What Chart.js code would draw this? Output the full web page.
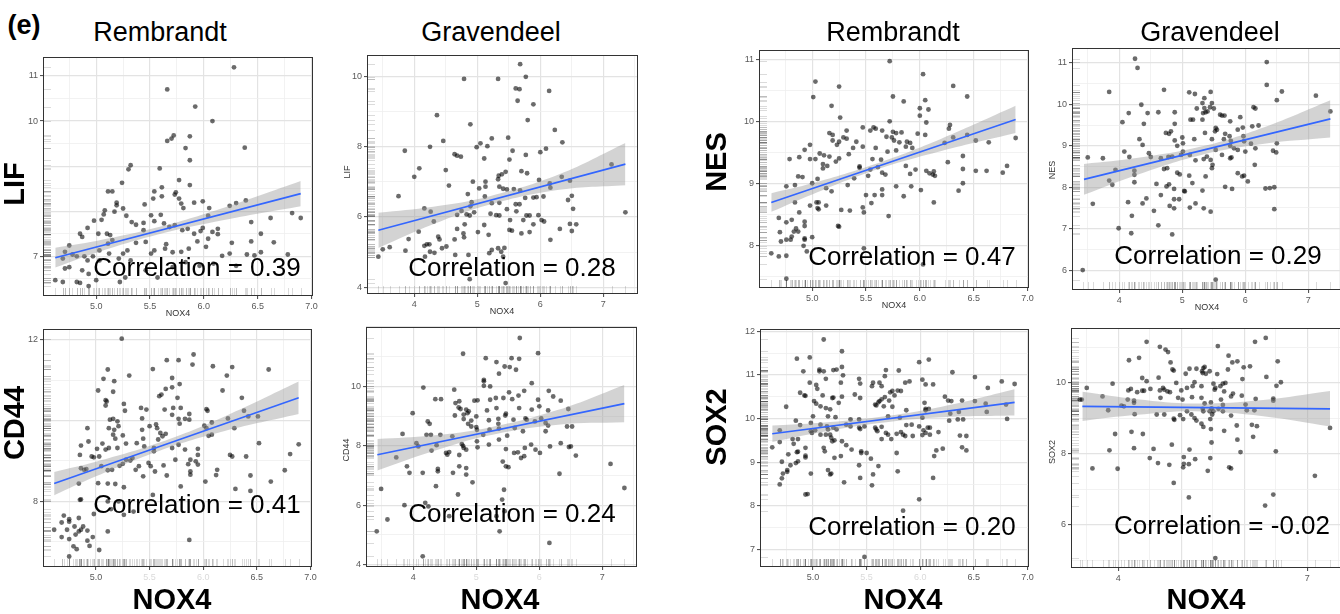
<!DOCTYPE html>
<html>
<head>
<meta charset="utf-8">
<script src="https://cdn.jsdelivr.net/npm/chart.js@4/dist/chart.umd.min.js"></script>
<style>
  body { margin: 0; width: 1340px; height: 614px; overflow: hidden; background: #fff; position: relative;
         font-family: "Liberation Sans", Arial, sans-serif; }
  canvas { position: absolute; }
  .t { position: absolute; transform: translate(-50%, -50%); white-space: nowrap; color: #000; line-height: 1; }
  .rot { transform: translate(-50%, -50%) rotate(-90deg); }
  .title { font-size: 27px; }
  .big { font-size: 29px; font-weight: bold; }
  .corr { font-size: 26px; }
  .small { font-size: 9px; color: #333; }
  .tag { font-size: 27px; font-weight: bold; }
</style>
</head>
<body>
<script>
// ---- data (NOX4 on x) ----
const lifRemPts = [[6.28,11.19],[5.66,10.70],[5.92,10.32],[6.08,10.0],[6.38,9.41],[5.66,9.56],[5.70,9.61],[5.72,9.68],[5.87,9.66],[5.83,9.40],[5.87,9.13],[5.59,8.95],[5.32,9.02],[5.30,8.93],[5.24,8.63],[5.77,8.69],[5.87,8.58],[5.61,8.53],[5.54,8.44],[5.74,8.42],[5.73,8.37],[5.11,8.44],[5.15,8.44],[5.19,8.19],[5.19,8.13],[5.45,8.15],[5.53,8.28],[5.61,8.33],[5.77,8.28],[5.79,8.17],[5.81,8.07],[5.91,8.19],[5.99,8.22],[6.05,8.07],[6.24,8.12],[6.30,8.18],[6.39,8.24],[5.25,8.06],[5.17,7.99],[5.08,8.02],[5.07,7.93],[4.98,7.79],[5.05,7.81],[4.92,7.63],[4.85,7.50],[4.87,7.43],[5.02,7.50],[5.10,7.50],[5.13,7.47],[5.15,7.36],[5.11,7.28],[5.28,7.90],[5.33,7.76],[5.37,7.70],[5.44,7.74],[5.44,7.58],[5.51,7.91],[5.54,7.78],[5.60,7.92],[5.63,7.73],[5.68,7.65],[5.73,7.69],[5.80,7.58],[5.85,7.61],[5.91,7.50],[5.97,7.56],[5.99,7.63],[6.04,7.90],[6.08,7.54],[6.13,7.61],[6.13,7.49],[6.26,7.30],[5.94,7.33],[6.04,7.39],[6.02,7.21],[5.86,7.17],[5.79,7.10],[5.71,7.09],[5.64,7.17],[5.65,7.27],[5.54,7.13],[5.51,7.06],[5.46,7.32],[5.37,7.30],[5.29,7.13],[5.25,7.06],[5.32,6.91],[5.21,6.95],[5.12,7.06],[5.03,7.13],[4.97,7.00],[5.03,6.91],[4.92,6.91],[4.89,7.00],[4.82,7.00],[4.78,7.04],[4.75,7.24],[4.71,7.10],[4.69,6.95],[4.75,6.76],[4.71,6.73],[4.87,6.69],[4.93,6.61],[4.82,6.43],[4.85,6.41],[4.93,6.34],[4.62,6.47],[4.69,6.43],[5.00,6.47],[5.22,6.43],[5.27,6.53],[5.46,6.69],[5.57,6.53],[5.71,6.76],[5.83,6.87],[5.96,6.79],[6.09,6.84],[6.30,6.79],[6.40,7.04],[6.47,7.02],[6.53,7.09],[6.44,7.33],[6.53,7.50],[6.65,7.31],[6.44,7.76],[6.62,7.85],[6.82,7.96],[6.90,7.85],[6.78,7.04],[6.24,7.06],[6.17,7.01]];
const lifRemFitX = [4.62, 6.90], lifRemFitY = [6.97, 8.39];
const lifRemBandX = [4.62, 5.0, 5.6, 6.2, 6.9];
const lifRemLo = [6.75, 7.08, 7.50, 7.81, 8.11];
const lifRemHi = [7.19, 7.34, 7.66, 8.09, 8.67];

const lifGravPts = [[5.68,10.34],[5.77,9.98],[5.33,9.92],[4.79,9.92],[5.61,9.65],[5.67,9.63],[6.14,9.58],[5.64,9.30],[5.89,9.20],[4.36,8.89],[5.80,8.75],[4.89,8.63],[6.23,8.47],[5.49,8.25],[5.23,8.23],[4.46,8.16],[6.35,8.12],[5.05,8.09],[5.16,8.01],[4.99,7.98],[4.25,7.99],[3.85,7.88],[5.56,7.88],[6.09,7.94],[6.00,7.84],[4.64,7.78],[4.68,7.74],[4.74,7.71],[5.11,7.66],[5.51,7.63],[5.77,7.76],[4.08,7.38],[4.50,7.33],[5.70,7.30],[5.79,7.24],[4.00,7.14],[5.34,7.17],[5.39,7.21],[5.45,7.28],[6.34,7.14],[5.98,7.05],[6.47,7.03],[7.13,7.49],[4.93,7.00],[5.13,7.00],[5.33,7.07],[4.55,6.89],[5.13,6.86],[5.35,6.86],[5.41,6.80],[5.47,6.78],[5.58,6.79],[5.68,6.75],[6.15,6.95],[6.16,6.83],[6.05,6.58],[5.03,6.81],[4.85,6.65],[5.12,6.58],[6.50,6.60],[6.44,6.48],[5.89,6.55],[5.76,6.54],[5.94,6.56],[5.35,6.40],[5.61,6.36],[5.67,6.36],[4.91,6.42],[4.89,6.30],[4.95,6.13],[4.88,6.04],[4.83,6.07],[4.75,6.17],[4.68,6.06],[5.23,6.39],[5.21,6.09],[5.30,6.05],[5.35,6.04],[5.47,6.22],[5.62,6.16],[5.78,6.04],[5.83,6.04],[5.73,5.91],[5.70,5.53],[5.97,6.05],[6.02,5.91],[6.06,5.87],[5.89,5.79],[5.83,5.57],[6.16,5.35],[6.31,5.66],[6.50,5.60],[6.47,5.80],[6.57,5.79],[6.52,6.23],[4.16,6.24],[4.26,6.15],[4.31,5.87],[4.07,5.58],[3.91,5.37],[3.75,6.59],[3.61,5.14],[3.50,5.08],[3.43,4.87],[3.86,5.04],[4.16,5.18],[4.20,5.22],[4.24,5.22],[4.25,5.01],[4.32,4.98],[4.38,5.44],[4.40,5.36],[4.44,5.11],[4.51,5.16],[4.64,5.36],[4.79,5.42],[4.78,5.53],[4.68,5.66],[4.80,5.79],[5.01,5.57],[5.11,5.77],[5.18,5.49],[5.23,5.06],[5.19,4.97],[5.33,5.11],[5.38,5.01],[5.43,5.12],[5.41,4.87],[5.51,5.63],[5.55,5.61],[5.52,5.91],[4.65,4.92],[4.86,4.92],[4.88,4.23],[5.45,4.12],[7.35,6.13],[4.17,4.87]];
const lifGravFitX = [3.43, 7.35], lifGravFitY = [5.62, 7.50];
const lifGravBandX = [3.43, 4.3, 5.2, 6.3, 7.35];
const lifGravLo = [5.12, 5.79, 6.35, 6.77, 6.90];
const lifGravHi = [6.12, 6.29, 6.59, 7.21, 8.10];

const nesRemPts = [[5.72,10.98],[6.03,10.77],[5.03,10.65],[5.25,10.57],[6.31,10.58],[5.01,10.40],[5.75,10.41],[6.44,10.41],[6.05,10.35],[5.85,10.33],[5.18,10.26],[6.00,10.22],[6.08,10.20],[6.00,10.10],[5.26,10.07],[5.72,10.01],[6.06,9.99],[6.28,9.95],[6.27,9.89],[5.47,9.91],[5.57,9.91],[5.59,9.89],[5.54,9.86],[5.32,9.86],[5.65,9.86],[5.75,9.84],[5.78,9.82],[5.83,9.83],[5.16,9.82],[5.19,9.79],[5.29,9.75],[5.32,9.73],[5.69,9.76],[5.74,9.75],[5.76,9.70],[5.98,9.81],[6.05,9.79],[6.44,9.79],[6.31,9.75],[5.19,9.70],[5.23,9.63],[5.25,9.68],[4.98,9.63],[5.41,9.68],[5.47,9.60],[5.59,9.58],[5.70,9.52],[5.81,9.67],[5.88,9.68],[5.91,9.66],[5.93,9.58],[5.87,9.60],[5.78,9.54],[6.23,9.66],[6.52,9.70],[6.64,9.67],[6.89,9.74],[5.38,9.58],[5.34,9.48],[5.07,9.49],[5.03,9.40],[4.93,9.55],[5.11,9.46],[5.16,9.44],[5.10,9.32],[5.14,9.29],[5.10,9.25],[5.25,9.41],[5.22,9.36],[4.88,9.43],[4.98,9.40],[4.79,9.40],[5.56,9.40],[5.64,9.39],[5.61,9.27],[5.44,9.26],[5.44,9.28],[5.54,9.23],[5.65,9.18],[5.68,9.15],[5.87,9.29],[5.96,9.23],[5.91,9.16],[6.06,9.21],[6.09,9.17],[6.12,9.15],[6.13,9.20],[6.26,9.35],[6.40,9.45],[6.40,9.24],[6.52,9.21],[6.62,9.21],[6.77,9.18],[6.81,9.29],[6.14,9.13],[5.05,9.08],[5.00,9.01],[4.87,9.12],[4.91,9.11],[4.84,8.98],[4.76,8.96],[5.13,8.93],[5.18,8.88],[5.33,8.98],[5.39,9.09],[5.52,9.13],[5.78,8.96],[5.92,8.96],[6.01,8.90],[5.85,8.80],[5.65,8.82],[5.65,8.91],[5.58,8.82],[5.50,8.82],[5.55,8.69],[5.47,8.62],[5.48,8.54],[5.35,8.57],[5.27,8.58],[5.25,8.31],[5.24,8.32],[5.13,8.65],[5.04,8.70],[5.05,8.61],[5.06,8.59],[4.98,8.65],[4.84,8.70],[4.88,8.54],[4.81,8.42],[4.93,8.39],[4.93,8.32],[4.85,8.28],[4.87,8.23],[4.83,8.23],[4.81,8.15],[4.80,8.10],[4.93,8.12],[4.93,8.10],[4.76,8.10],[4.71,8.07],[5.00,8.14],[4.92,8.00],[4.95,7.91],[4.70,8.22],[4.69,8.45],[4.76,8.38],[4.62,7.88],[4.69,7.83],[4.76,7.84],[4.76,7.47],[5.06,8.70],[6.13,8.70],[6.36,8.89],[6.40,9.01],[6.03,7.70],[5.71,8.48],[5.48,7.96]];
const nesRemFitX = [4.62, 6.89], nesRemFitY = [8.70, 10.04];
const nesRemBandX = [4.62, 5.0, 5.6, 6.2, 6.89];
const nesRemLo = [8.55, 8.83, 9.23, 9.53, 9.82];
const nesRemHi = [8.85, 9.01, 9.33, 9.73, 10.26];

const nesGravPts = [[4.25,11.10],[4.29,10.88],[6.34,11.02],[6.34,10.47],[3.84,10.30],[4.71,10.35],[5.11,10.29],[5.20,10.25],[5.45,10.30],[6.58,10.31],[7.12,10.21],[6.50,10.10],[5.35,10.15],[5.32,10.03],[5.47,10.03],[4.35,9.99],[5.23,9.90],[5.35,9.91],[5.44,9.93],[5.50,9.90],[5.33,9.79],[5.37,9.81],[5.40,9.83],[4.88,9.81],[4.62,9.81],[4.45,9.79],[4.15,9.79],[6.13,9.93],[6.16,9.90],[7.35,9.83],[5.32,9.63],[5.17,9.63],[5.13,9.63],[5.60,9.75],[5.63,9.73],[5.67,9.73],[5.76,9.59],[5.92,9.69],[4.05,9.57],[4.39,9.53],[4.88,9.53],[5.53,9.43],[5.55,9.39],[5.52,9.35],[5.36,9.31],[4.74,9.31],[4.79,9.29],[4.82,9.35],[6.21,9.49],[6.11,9.47],[5.88,9.39],[5.96,9.44],[5.68,9.29],[5.75,9.23],[5.47,9.16],[5.19,9.16],[5.00,9.20],[4.88,9.13],[4.32,9.16],[5.97,9.23],[5.98,9.11],[6.09,9.05],[6.50,9.06],[4.37,9.02],[5.77,9.12],[5.66,9.16],[5.01,9.06],[4.92,9.00],[4.47,8.82],[4.50,8.73],[4.08,8.86],[3.50,8.72],[3.74,8.70],[4.16,8.73],[4.66,8.70],[4.78,8.73],[4.84,8.74],[4.98,8.78],[5.01,8.86],[5.12,8.78],[5.21,8.65],[5.53,8.90],[5.63,8.78],[5.76,8.70],[5.78,8.72],[5.34,8.68],[5.39,8.74],[5.45,8.66],[5.48,8.54],[5.47,8.46],[5.76,9.00],[5.82,8.94],[5.88,8.90],[6.00,8.86],[6.16,8.94],[6.15,8.54],[6.44,8.88],[6.49,8.84],[4.76,8.46],[4.71,8.44],[4.92,8.35],[4.96,8.31],[5.11,8.28],[5.37,8.26],[4.24,8.40],[4.24,8.30],[4.24,8.12],[3.84,8.16],[3.89,8.06],[3.94,8.42],[4.59,8.08],[4.79,8.07],[4.87,7.96],[5.03,7.91],[5.04,7.90],[4.75,8.02],[4.66,7.81],[5.16,8.10],[5.32,7.92],[5.68,8.01],[5.79,7.96],[5.95,8.26],[5.88,8.34],[5.98,8.28],[6.04,8.14],[6.32,7.97],[6.46,8.00],[3.58,7.60],[4.14,7.64],[4.43,7.73],[4.37,7.61],[4.80,7.55],[4.87,7.71],[4.95,7.71],[4.87,7.49],[5.12,7.51],[5.21,7.61],[5.34,7.49],[5.45,7.41],[4.55,7.43],[4.20,7.31],[6.46,7.47],[3.99,7.01],[4.62,7.08],[4.19,6.89],[4.84,6.86],[3.42,6.00],[5.53,5.77],[6.39,7.98]];
const nesGravFitX = [3.44, 7.35], nesGravFitY = [8.19, 9.65];
const nesGravBandX = [3.44, 4.3, 5.3, 6.3, 7.35];
const nesGravLo = [7.82, 8.31, 8.78, 9.05, 9.20];
const nesGravHi = [8.56, 8.71, 8.98, 9.45, 10.10];

const cd44RemPts = [[5.24,12.02],[5.91,11.63],[5.53,11.27],[5.66,11.49],[5.77,11.49],[5.90,11.38],[6.09,11.34],[6.27,11.32],[6.61,11.26],[5.11,11.26],[5.07,11.03],[5.17,10.97],[5.31,11.11],[5.71,11.05],[5.78,10.90],[5.71,10.82],[5.65,10.78],[5.61,10.64],[5.59,10.60],[5.02,10.74],[5.16,10.71],[6.22,11.11],[6.18,10.74],[6.36,10.56],[5.76,10.56],[5.09,10.50],[5.10,10.47],[5.09,10.37],[5.26,10.41],[5.27,10.24],[5.42,10.31],[5.47,10.27],[5.43,10.05],[5.64,10.27],[5.72,10.31],[5.79,10.31],[5.71,10.14],[5.77,10.04],[5.83,10.04],[5.87,10.16],[5.87,10.02],[5.78,9.92],[6.03,10.28],[6.04,10.24],[6.23,10.05],[6.38,10.24],[6.51,10.10],[6.42,10.10],[6.08,9.95],[6.01,9.87],[6.03,9.81],[6.05,9.62],[6.08,9.65],[6.29,9.81],[5.13,10.02],[5.16,10.04],[5.20,9.98],[5.12,9.81],[5.17,9.77],[5.21,9.86],[5.16,9.65],[5.18,9.55],[5.25,9.63],[5.12,9.32],[5.09,9.28],[5.20,9.32],[5.28,9.43],[4.92,9.81],[4.93,9.48],[4.86,9.38],[4.85,9.15],[5.01,9.30],[5.06,9.43],[4.96,9.11],[4.98,9.09],[4.86,8.82],[4.89,8.78],[4.91,8.80],[4.84,8.44],[5.50,9.86],[5.56,9.90],[5.57,9.81],[5.60,9.69],[5.62,9.61],[5.65,9.67],[5.58,9.53],[5.43,9.77],[5.44,9.55],[5.54,9.32],[5.54,9.24],[5.71,9.32],[5.77,9.40],[5.45,9.36],[5.38,9.44],[5.83,9.28],[5.95,9.30],[5.95,9.15],[5.93,8.99],[5.88,9.03],[5.86,8.92],[5.74,9.03],[5.63,8.89],[5.66,8.64],[5.55,8.74],[5.49,8.95],[5.51,8.87],[5.40,8.87],[5.34,9.07],[5.28,9.03],[5.32,9.01],[5.25,8.93],[5.22,8.88],[5.15,8.78],[5.11,8.77],[5.05,8.87],[5.03,9.11],[5.37,8.78],[5.44,8.62],[5.88,8.74],[5.95,8.91],[6.13,8.78],[6.12,8.65],[6.02,8.49],[5.88,8.66],[6.25,9.15],[6.27,9.11],[6.40,9.11],[6.52,9.44],[6.89,9.41],[6.81,9.17],[6.76,8.77],[6.63,8.49],[6.44,8.64],[6.30,8.31],[6.44,8.26],[5.79,8.37],[5.53,8.16],[5.26,8.35],[5.02,8.45],[5.11,8.44],[5.18,8.43],[4.85,8.04],[4.86,8.05],[5.11,8.00],[5.21,8.00],[5.35,7.75],[5.26,7.67],[5.14,7.81],[5.11,7.26],[5.03,6.80],[5.87,7.05],[4.98,7.69],[4.84,7.59],[4.75,7.56],[4.75,7.50],[4.70,7.65],[4.68,7.48],[4.61,7.30],[4.68,7.12],[4.75,7.07],[4.79,6.89],[4.82,6.82],[4.75,6.64],[4.81,7.18],[4.84,7.26],[4.86,7.30],[4.88,7.38],[4.92,7.28],[4.92,7.03],[4.94,6.90],[4.97,7.12],[4.80,7.38],[4.73,7.30]];
const cd44RemFitX = [4.61, 6.89], cd44RemFitY = [8.44, 10.56];
const cd44RemBandX = [4.61, 5.0, 5.6, 6.2, 6.89];
const cd44RemLo = [8.15, 8.62, 9.26, 9.74, 10.16];
const cd44RemHi = [8.73, 8.98, 9.46, 10.10, 10.96];

const cd44GravPts = [[5.69,11.63],[5.98,11.12],[4.79,11.10],[5.15,10.95],[5.56,10.95],[5.68,10.93],[5.32,10.82],[5.53,10.65],[5.45,10.67],[5.63,10.56],[5.36,10.43],[5.12,10.22],[5.12,10.17],[5.88,10.11],[5.12,10.02],[5.22,10.00],[4.16,9.96],[4.65,9.89],[5.76,9.85],[6.15,9.85],[5.52,9.80],[6.22,9.66],[5.67,9.69],[5.57,9.57],[5.43,9.61],[5.22,9.55],[5.02,9.53],[4.97,9.52],[4.35,9.57],[4.44,9.57],[5.98,9.55],[6.34,9.52],[4.67,9.44],[4.73,9.50],[5.31,9.61],[5.32,9.27],[6.00,9.33],[5.68,9.27],[4.72,9.29],[4.75,9.24],[4.66,9.02],[4.80,9.05],[4.84,9.22],[4.88,9.16],[4.86,9.10],[5.17,9.19],[5.47,9.08],[5.46,9.02],[5.88,9.22],[6.14,9.19],[6.46,9.24],[3.99,9.10],[4.23,8.82],[4.26,8.74],[5.00,8.99],[4.80,8.90],[4.92,8.85],[4.87,8.74],[4.92,8.65],[5.00,8.63],[5.01,8.54],[5.20,8.86],[5.35,8.91],[5.35,8.74],[5.36,8.58],[5.21,8.54],[5.11,8.37],[5.59,8.88],[5.78,8.92],[5.80,8.88],[6.03,8.92],[5.93,8.82],[6.10,8.77],[6.14,8.68],[6.10,8.49],[5.74,8.49],[5.61,8.60],[5.49,8.34],[5.36,8.21],[5.20,8.04],[5.01,8.15],[5.02,7.95],[4.77,8.06],[4.79,8.00],[4.84,7.87],[4.80,7.93],[4.62,8.32],[4.43,8.37],[4.28,8.37],[4.21,8.37],[4.05,8.09],[4.08,7.98],[3.83,8.40],[4.37,8.02],[4.29,7.84],[4.52,7.76],[4.54,7.70],[4.57,7.79],[4.73,7.69],[4.63,7.09],[4.39,7.22],[4.39,7.14],[4.15,7.09],[3.90,7.31],[3.94,7.09],[3.73,7.61],[4.84,7.25],[4.84,7.03],[4.73,7.31],[4.94,6.77],[4.36,6.64],[4.71,6.36],[5.47,7.89],[5.60,7.76],[5.66,7.78],[5.76,7.65],[5.71,7.59],[5.42,7.47],[5.47,7.31],[5.51,7.28],[5.77,7.93],[5.87,8.04],[5.94,7.87],[6.01,7.76],[6.17,7.98],[6.34,8.09],[6.47,7.96],[6.50,7.98],[6.32,7.06],[6.58,7.67],[6.44,8.65],[6.52,8.65],[7.13,7.39],[7.35,6.58],[3.49,6.55],[3.59,5.52],[3.42,5.12],[3.86,6.00],[4.19,6.08],[4.24,5.96],[4.57,5.63],[5.41,6.19],[5.45,5.80],[5.37,5.12],[6.16,4.73],[4.15,4.28],[5.44,6.52],[5.32,5.63]];
const cd44GravFitX = [3.43, 7.35], cd44GravFitY = [7.70, 9.42];
const cd44GravBandX = [3.43, 4.3, 5.2, 6.3, 7.35];
const cd44GravLo = [7.17, 7.81, 8.35, 8.71, 8.79];
const cd44GravHi = [8.23, 8.35, 8.61, 9.21, 10.05];

const sox2RemPts = [[5.10,11.81],[5.27,11.54],[6.08,11.35],[4.85,11.37],[4.97,11.40],[5.99,11.29],[4.91,11.08],[5.06,11.12],[5.06,11.08],[5.19,11.11],[5.10,11.08],[5.22,11.12],[5.27,11.18],[5.68,11.11],[5.80,11.10],[6.30,11.06],[5.28,10.99],[5.43,10.91],[5.67,10.97],[6.02,10.89],[5.90,10.85],[6.51,10.95],[6.76,10.85],[4.97,10.82],[5.03,10.77],[5.12,10.91],[5.26,10.82],[5.44,10.80],[5.56,10.82],[5.62,10.82],[5.64,10.74],[5.55,10.74],[5.86,10.82],[6.05,10.78],[6.12,10.78],[6.63,10.70],[6.88,10.79],[5.04,10.68],[4.88,10.59],[4.92,10.53],[4.93,10.52],[5.09,10.53],[5.18,10.47],[5.19,10.48],[5.27,10.50],[5.39,10.55],[5.44,10.47],[5.24,10.36],[5.72,10.60],[5.74,10.63],[5.79,10.64],[5.76,10.53],[5.82,10.63],[5.67,10.49],[5.61,10.37],[5.59,10.30],[5.58,10.32],[5.62,10.40],[5.64,10.44],[5.66,10.28],[5.71,10.41],[5.74,10.27],[5.87,10.19],[6.23,10.50],[6.26,10.41],[6.29,10.40],[6.39,10.41],[6.51,10.40],[6.61,10.34],[6.04,10.36],[6.05,10.22],[6.08,10.22],[6.05,10.19],[6.28,10.11],[6.36,10.15],[6.40,9.98],[6.27,9.95],[4.75,10.27],[5.01,10.40],[5.03,10.34],[5.07,10.28],[5.12,10.24],[5.14,10.05],[5.16,10.21],[5.21,10.03],[5.00,10.05],[4.84,9.95],[4.88,9.85],[4.98,9.90],[5.07,9.86],[5.13,9.82],[5.19,9.79],[5.22,9.75],[5.14,9.75],[5.35,9.98],[5.31,9.86],[5.43,9.98],[5.43,9.79],[5.44,9.76],[5.48,9.82],[5.35,9.82],[5.58,9.79],[5.59,9.75],[5.64,9.81],[5.70,10.05],[5.81,10.02],[6.02,10.02],[5.99,9.82],[6.07,9.79],[6.03,9.73],[6.05,9.67],[6.02,9.62],[5.87,9.85],[5.92,9.86],[5.82,9.69],[5.86,9.60],[5.84,9.63],[5.93,9.60],[5.78,9.65],[5.70,9.63],[5.68,9.67],[5.60,9.71],[5.64,9.53],[5.73,9.53],[6.09,9.63],[6.17,9.69],[6.35,9.98],[6.39,9.34],[6.43,9.27],[6.43,9.60],[4.69,9.73],[4.62,9.34],[4.69,9.46],[4.82,9.42],[4.81,9.53],[4.86,9.53],[4.98,9.71],[4.99,9.67],[5.02,9.73],[5.07,9.63],[5.16,9.63],[5.12,9.63],[5.17,9.56],[5.18,9.48],[5.20,9.50],[5.27,9.48],[5.31,9.39],[5.10,9.33],[5.11,9.25],[4.93,9.33],[4.85,9.23],[4.86,9.24],[4.93,9.15],[4.93,9.11],[4.77,9.18],[4.71,9.01],[4.79,8.93],[4.84,8.98],[4.86,9.02],[4.76,8.82],[4.76,8.78],[4.72,8.74],[4.71,8.63],[4.69,8.49],[4.98,8.74],[5.14,8.82],[5.16,8.72],[5.17,8.74],[5.20,9.10],[5.26,9.14],[5.36,9.29],[5.45,9.25],[5.45,9.21],[5.50,9.21],[5.54,9.08],[5.43,8.93],[5.44,8.64],[5.61,8.91],[5.56,8.72],[5.78,9.21],[5.79,8.79],[5.29,8.54],[5.55,8.47],[4.93,8.26],[4.95,8.27],[5.99,8.15],[5.84,7.89],[6.12,8.64],[6.13,9.14],[6.15,9.27],[6.21,9.31],[6.09,9.79],[6.37,9.61],[6.80,10.32],[6.81,9.99],[6.62,10.15],[5.48,6.83]];
const sox2RemFitX = [4.62, 6.88], sox2RemFitY = [9.65, 10.37];
const sox2RemBandX = [4.62, 5.0, 5.6, 6.2, 6.88];
const sox2RemLo = [9.46, 9.65, 9.89, 10.03, 10.07];
const sox2RemHi = [9.84, 9.89, 10.03, 10.27, 10.67];

const sox2GravPts = [[6.34,11.27],[6.17,11.16],[4.45,11.16],[5.58,11.04],[4.66,11.02],[4.75,10.94],[4.79,10.87],[5.75,10.77],[4.17,10.64],[4.33,10.71],[4.83,10.58],[5.81,10.58],[5.89,10.61],[6.53,10.61],[5.13,10.40],[5.24,10.40],[5.35,10.42],[5.37,10.45],[4.86,10.38],[4.88,10.35],[5.07,10.26],[5.99,10.44],[6.09,10.47],[5.33,10.33],[5.34,10.28],[5.39,10.26],[5.45,10.33],[5.57,10.25],[5.74,10.38],[4.38,10.14],[4.45,10.05],[4.64,10.15],[4.92,10.00],[5.18,9.91],[5.21,10.02],[5.51,9.98],[5.66,9.98],[5.70,10.00],[5.54,9.86],[5.53,9.81],[5.62,9.91],[5.97,10.11],[6.35,10.17],[6.58,10.02],[6.51,9.92],[3.91,9.98],[3.50,9.86],[4.16,9.79],[4.20,9.83],[4.30,9.74],[4.38,9.78],[4.41,9.78],[4.51,9.83],[4.66,9.79],[4.71,9.86],[4.73,9.81],[4.78,9.76],[4.82,9.74],[5.00,9.79],[5.09,9.86],[5.32,9.91],[5.68,9.76],[5.82,9.70],[5.96,9.64],[3.42,9.53],[3.75,9.62],[4.05,9.36],[4.15,9.53],[4.25,9.50],[4.25,9.44],[4.67,9.58],[4.95,9.58],[5.02,9.53],[5.17,9.60],[5.32,9.58],[5.37,9.42],[5.47,9.45],[5.63,9.53],[5.66,9.38],[5.79,9.62],[6.18,9.55],[6.46,9.56],[6.46,9.50],[3.84,9.23],[4.09,9.34],[4.26,9.12],[4.61,9.11],[4.73,9.11],[4.88,8.99],[4.89,8.96],[4.98,9.09],[5.03,8.98],[5.09,9.20],[5.16,9.11],[5.21,9.01],[5.24,8.94],[5.35,9.20],[5.34,9.27],[5.45,9.20],[5.48,9.28],[5.51,9.20],[5.59,9.27],[5.66,9.20],[5.49,9.11],[5.32,8.85],[5.35,8.76],[5.46,8.98],[5.47,8.70],[5.48,8.32],[5.79,9.08],[6.02,9.39],[6.04,9.23],[6.16,9.23],[6.20,8.78],[6.12,8.82],[5.88,8.80],[5.68,8.65],[4.39,8.56],[4.21,8.62],[3.95,8.56],[5.89,8.40],[6.14,8.48],[4.25,8.16],[4.56,8.14],[4.85,8.26],[3.86,8.10],[3.59,7.59],[3.99,7.58],[4.50,7.88],[4.63,7.74],[4.81,7.69],[5.04,7.91],[5.03,7.62],[5.04,7.72],[5.12,7.71],[5.13,8.12],[5.22,7.85],[5.46,7.88],[5.42,7.52],[5.76,7.62],[5.79,7.59],[5.94,8.05],[4.88,7.18],[5.12,6.77],[6.33,6.54],[6.46,6.85],[6.50,8.07],[7.12,7.38],[7.36,8.73],[5.54,5.06],[3.39,9.53]];
const sox2GravFitX = [3.43, 7.36], sox2GravFitY = [9.34, 9.27];
const sox2GravBandX = [3.43, 4.3, 5.2, 6.3, 7.36];
const sox2GravLo = [8.93, 9.10, 9.20, 9.06, 8.77];
const sox2GravHi = [9.75, 9.54, 9.42, 9.52, 9.77];

// ---- tick labels ----
const remXTicks = [5.0, 5.5, 6.0, 6.5, 7.0];
const gravXTicks = [4, 5, 6, 7];
const lifRemYTicks = [7, 8, 9, 10, 11], lifRemYLabels = [7, 10, 11];
const lifGravYTicks = [4, 6, 8, 10];
const nesRemYTicks = [8, 9, 10, 11];
const nesGravYTicks = [6, 7, 8, 9, 10, 11];
const cd44RemYTicks = [8, 10, 12], cd44RemYLabels = [8, 12];
const cd44GravYTicks = [4, 6, 8, 10, 12], cd44GravYLabels = [4, 6, 8, 10];
const sox2RemYTicks = [7, 8, 9, 10, 11, 12];
const sox2GravYTicks = [6, 8, 10];

const FONT = '"Liberation Sans", Arial, sans-serif';

const panels = [
  { pts: lifRemPts, fx: lifRemFitX, fy: lifRemFitY, bx: lifRemBandX, lo: lifRemLo, hi: lifRemHi,
    xt: remXTicks, xl: remXTicks, xf: [], dec: 1, yt: lifRemYTicks, yl: lifRemYLabels,
    box: [43, 57, 313, 296], xr: [4.506, 7.014], yr: [6.12, 11.42] },
  { pts: lifGravPts, fx: lifGravFitX, fy: lifGravFitY, bx: lifGravBandX, lo: lifGravLo, hi: lifGravHi,
    xt: gravXTicks, xl: gravXTicks, xf: [], dec: 0, yt: lifGravYTicks, yl: lifGravYTicks,
    box: [367, 55, 638, 294], xr: [3.25, 7.55], yr: [3.81, 10.6] },
  { pts: nesRemPts, fx: nesRemFitX, fy: nesRemFitY, bx: nesRemBandX, lo: nesRemLo, hi: nesRemHi,
    xt: remXTicks, xl: remXTicks, xf: [], dec: 1, yt: nesRemYTicks, yl: nesRemYTicks,
    box: [759, 50, 1029, 288], xr: [4.506, 7.014], yr: [7.32, 11.16] },
  { pts: nesGravPts, fx: nesGravFitX, fy: nesGravFitY, bx: nesGravBandX, lo: nesGravLo, hi: nesGravHi,
    xt: gravXTicks, xl: gravXTicks, xf: [], dec: 0, yt: nesGravYTicks, yl: nesGravYTicks,
    box: [1072, 48, 1343, 290], xr: [3.25, 7.55], yr: [5.52, 11.36] },
  { pts: cd44RemPts, fx: cd44RemFitX, fy: cd44RemFitY, bx: cd44RemBandX, lo: cd44RemLo, hi: cd44RemHi,
    xt: remXTicks, xl: remXTicks, xf: [5.5, 6.0], dec: 1, yt: cd44RemYTicks, yl: cd44RemYLabels,
    box: [43, 329, 312, 567], xr: [4.506, 7.014], yr: [6.38, 12.26] },
  { pts: cd44GravPts, fx: cd44GravFitX, fy: cd44GravFitY, bx: cd44GravBandX, lo: cd44GravLo, hi: cd44GravHi,
    xt: gravXTicks, xl: gravXTicks, xf: [5, 6], dec: 0, yt: cd44GravYTicks, yl: cd44GravYLabels,
    box: [366, 327, 637, 567], xr: [3.25, 7.55], yr: [3.92, 12.0] },
  { pts: sox2RemPts, fx: sox2RemFitX, fy: sox2RemFitY, bx: sox2RemBandX, lo: sox2RemLo, hi: sox2RemHi,
    xt: remXTicks, xl: remXTicks, xf: [5.5, 6.0], dec: 1, yt: sox2RemYTicks, yl: sox2RemYTicks,
    box: [760, 329, 1029, 567], xr: [4.506, 7.014], yr: [6.6, 12.05] },
  { pts: sox2GravPts, fx: sox2GravFitX, fy: sox2GravFitY, bx: sox2GravBandX, lo: sox2GravLo, hi: sox2GravHi,
    xt: gravXTicks, xl: [4, 7], xf: [], dec: 0, yt: sox2GravYTicks, yl: sox2GravYTicks,
    box: [1071, 328, 1342, 568], xr: [3.25, 7.55], yr: [4.78, 11.55] }
];

const has = (arr, v) => arr.some(a => Math.abs(a - v) < 1e-6);

// majors plus the half-way minor lines, clipped to the axis range
function gridValues(majors, min, max) {
  const step = majors[1] - majors[0];
  const out = [];
  for (let v = majors[0] - 2 * step; v <= majors[majors.length - 1] + 2 * step + 1e-9; v += step / 2) {
    const r = Math.round(v * 1000) / 1000;
    if (r >= min - 1e-9 && r <= max + 1e-9) out.push(r);
  }
  return out;
}

// rug marks along both axes + dark panel border
const rugBox = {
  id: 'rugBox',
  beforeDatasetsDraw(chart) {
    const { ctx, chartArea: a, scales } = chart;
    const pts = chart.data.datasets[3].data;
    ctx.save();
    ctx.strokeStyle = 'rgba(0,0,0,0.14)';
    ctx.lineWidth = 1;
    pts.forEach(p => {
      const px = Math.round(scales.x.getPixelForValue(p.x)) + 0.5;
      ctx.beginPath(); ctx.moveTo(px, a.bottom); ctx.lineTo(px, a.bottom - 8); ctx.stroke();
      const py = Math.round(scales.y.getPixelForValue(p.y)) + 0.5;
      ctx.beginPath(); ctx.moveTo(a.left, py); ctx.lineTo(a.left + 8, py); ctx.stroke();
    });
    ctx.restore();
  },
  afterDraw(chart) {
    const { ctx, chartArea: a } = chart;
    ctx.save();
    ctx.strokeStyle = '#333';
    ctx.lineWidth = 1;
    ctx.strokeRect(a.left + 0.5, a.top + 0.5, a.right - a.left - 1, a.bottom - a.top - 1);
    ctx.restore();
  }
};

const YW = 34, XH = 22, PT = 8, PR = 14;

panels.forEach(p => {
  const [L, T, R, B] = p.box;
  const cv = document.createElement('canvas');
  cv.width = R - L + YW + PR;
  cv.height = B - T + PT + XH;
  cv.style.left = (L - YW) + 'px';
  cv.style.top = (T - PT) + 'px';
  document.body.appendChild(cv);

  const axis = (majors, labels, faint, min, max, dec, isX) => ({
    type: 'linear', min, max,
    afterBuildTicks: s => { s.ticks = gridValues(majors, min, max).map(v => ({ value: v })); },
    afterFit: s => { if (isX) s.height = XH; else s.width = YW; },
    border: { display: false },
    grid: {
      color: c => has(majors, c.tick.value) ? '#e3e3e3' : '#efefef',
      lineWidth: c => has(majors, c.tick.value) ? 1.2 : 0.8,
      drawTicks: true, tickLength: 3, tickWidth: 1,
      tickColor: c => has(labels, c.tick.value) ? '#444' : 'rgba(0,0,0,0)'
    },
    ticks: {
      autoSkip: false, maxRotation: 0, padding: 2,
      font: { size: 9, family: FONT },
      color: c => has(faint, c.tick.value) ? '#dadada' : '#595959',
      callback: v => has(labels, v) ? v.toFixed(dec) : ''
    }
  });

  new Chart(cv, {
    type: 'scatter',
    data: {
      datasets: [
        { type: 'line', data: p.fx.map((x, i) => ({ x, y: p.fy[i] })),
          borderColor: '#3366ff', borderWidth: 1.6, pointRadius: 0, fill: false, tension: 0 },
        { type: 'line', data: p.bx.map((x, i) => ({ x, y: p.hi[i] })),
          borderColor: 'rgba(0,0,0,0)', borderWidth: 0, pointRadius: 0, tension: 0.4,
          fill: '+1', backgroundColor: 'rgba(150,150,150,0.42)' },
        { type: 'line', data: p.bx.map((x, i) => ({ x, y: p.lo[i] })),
          borderColor: 'rgba(0,0,0,0)', borderWidth: 0, pointRadius: 0, tension: 0.4, fill: false },
        { data: p.pts.map(d => ({ x: d[0], y: d[1] })),
          backgroundColor: 'rgba(0,0,0,0.58)', borderWidth: 0, pointRadius: 2.4 }
      ]
    },
    options: {
      responsive: false, animation: false, devicePixelRatio: 1,
      layout: { padding: { left: 0, top: PT, right: PR, bottom: 0 } },
      plugins: { legend: { display: false }, tooltip: { enabled: false } },
      scales: {
        x: axis(p.xt, p.xl, p.xf, p.xr[0], p.xr[1], p.dec, true),
        y: axis(p.yt, p.yl, [], p.yr[0], p.yr[1], 0, false)
      }
    },
    plugins: [rugBox]
  });
});

// ---- text ----
const texts = [
  ['(e)', 24, 25, 'tag'],
  ['Rembrandt', 160, 32, 'title'], ['Gravendeel', 491, 32, 'title'],
  ['Rembrandt', 893, 32, 'title'], ['Gravendeel', 1210, 32, 'title'],
  ['LIF', 14, 184, 'big rot'], ['CD44', 14, 423, 'big rot'],
  ['NES', 716, 162, 'big rot'], ['SOX2', 716, 427, 'big rot'],
  ['NOX4', 172, 599, 'big'], ['NOX4', 500, 599, 'big'], ['NOX4', 903, 599, 'big'], ['NOX4', 1206, 599, 'big'],
  ['NOX4', 178, 313, 'small'], ['NOX4', 502, 311, 'small'], ['NOX4', 894, 305, 'small'], ['NOX4', 1207, 307, 'small'],
  ['LIF', 347, 172, 'small rot'], ['NES', 1052, 170, 'small rot'],
  ['CD44', 346, 450, 'small rot'], ['SOX2', 1052, 452, 'small rot'],
  ['Correlation = 0.39', 197, 267, 'corr'], ['Correlation = 0.28', 512, 267, 'corr'],
  ['Correlation = 0.47', 912, 256, 'corr'], ['Correlation = 0.29', 1218, 255, 'corr'],
  ['Correlation = 0.41', 197, 504, 'corr'], ['Correlation = 0.24', 512, 513, 'corr'],
  ['Correlation = 0.20', 912, 526, 'corr'], ['Correlation = -0.02', 1222, 525, 'corr']
];
texts.forEach(([s, x, y, cls]) => {
  const d = document.createElement('div');
  d.className = 't ' + cls;
  d.textContent = s;
  d.style.left = x + 'px';
  d.style.top = y + 'px';
  document.body.appendChild(d);
});
</script>
</body>
</html>
